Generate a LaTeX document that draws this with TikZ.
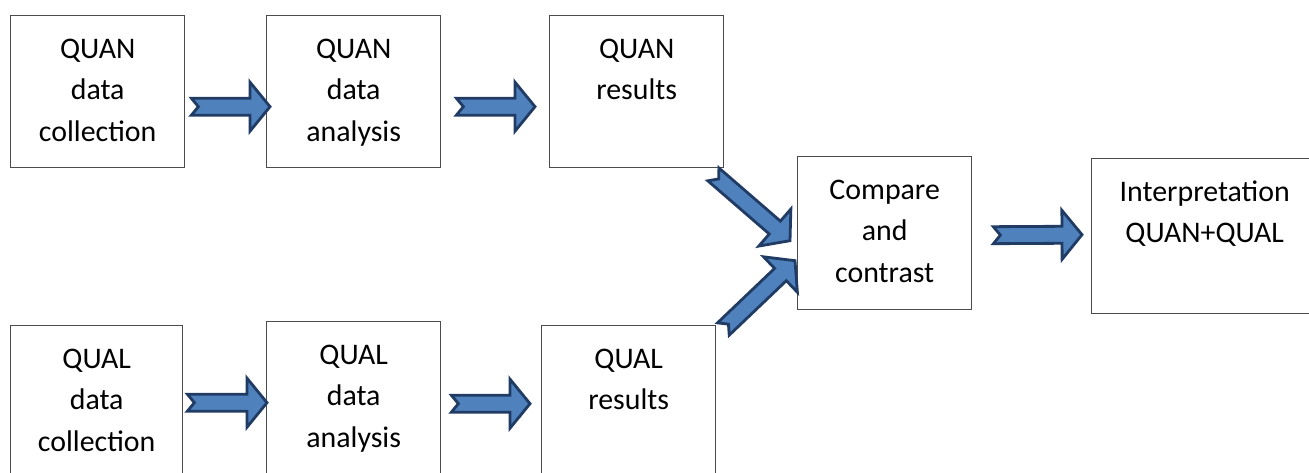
\documentclass[tikz,border=0pt]{standalone}
\usepackage{fontspec}
\setmainfont{Carlito}
\usetikzlibrary{calc, positioning}
\definecolor{arrowfill}{RGB}{79,129,189}
\definecolor{arrowline}{RGB}{33,60,100}
\def\aw{0.17cm}   % half shaft
\def\aH{0.49cm}   % half head
\def\ah{0.40cm}   % head length
\def\an{0.14cm}   % tail notch
\NewDocumentCommand{\boxtext}{m m m}{\parbox[c][#2][t]{#1}{\centering\vspace*{7.8pt}\strut#3}}
\NewDocumentCommand{\blockarrow}{m m}{%
  \draw[fatarrow] let \p1=(#1), \p2=(#2),
      \n1={atan2(\y2-\y1,\x2-\x1)}, \n2={veclen(\x2-\x1,\y2-\y1)} in
    ($(\p1)+({\n1+90}:\aw)$) -- ($(\p1)+(\n1:{\n2-\ah})+({\n1+90}:\aw)$)
    -- ($(\p1)+(\n1:{\n2-\ah})+({\n1+90}:\aH)$) -- (\p2)
    -- ($(\p1)+(\n1:{\n2-\ah})+({\n1-90}:\aH)$)
    -- ($(\p1)+(\n1:{\n2-\ah})+({\n1-90}:\aw)$)
    -- ($(\p1)+({\n1-90}:\aw)$) -- ($(\p1)+(\n1:\an)$) -- cycle;}

\begin{document}
\begin{tikzpicture}[x=0.02cm, y=-0.02cm,
    box/.style = {draw=black!70, line width=0.8pt, inner sep=0pt,
                  anchor=north west, font=\fontsize{17}{23.6}\selectfont},
    fatarrow/.style = {draw=arrowline, fill=arrowfill, line width=1.6pt,
                       line join=miter}]
    \useasboundingbox (0,0) rectangle (1309,473);
    \clip (0,0) rectangle (1309,473);

    % quantitative strand
    \node[box] (qn1) at (10,15) {\boxtext{3.48cm}{3.04cm}{QUAN\\data\\collection}};
    \node[box] (qn2) at (266,15) {\boxtext{3.48cm}{3.04cm}{QUAN\\data\\analysis}};
    \node[box] (qn3) at (549,15) {\boxtext{3.48cm}{3.04cm}{QUAN\\results}};

    % qualitative strand
    \node[box] (ql1) at (10,325) {\boxtext{3.44cm}{3.04cm}{QUAL\\data\\collection}};
    \node[box] (ql2) at (266,321) {\boxtext{3.48cm}{3.04cm}{QUAL\\data\\analysis}};
    \node[box] (ql3) at (541,325) {\boxtext{3.48cm}{3.04cm}{QUAL\\results}};

    \node[box] (cmp) at (797,156) {\boxtext{3.48cm}{3.06cm}{Compare\\and\\contrast}};
    \node[box] (intp) at (1091,158) {\boxtext{4.52cm}{3.10cm}{Interpretation\\QUAN+QUAL}\hspace{1cm}};

    \blockarrow{[shift={(6,15)}]qn1.east}{[shift={(4,15)}]qn2.west}
    \blockarrow{[shift={(15,15)}]qn2.east}{[shift={(-14,15)}]qn3.west}
    \blockarrow{[shift={(4,1)}]ql1.east}{[shift={(1,5)}]ql2.west}
    \blockarrow{[shift={(10,6)}]ql2.east}{[shift={(-11,2)}]ql3.west}
    \blockarrow{[shift={(-11,6)}]qn3.south east}{[shift={(-7,7.5)}]cmp.west}
    \blockarrow{[shift={(7,4)}]ql3.north east}{[shift={(-2,27.5)}]cmp.west}
    \blockarrow{[shift={(21,2)}]cmp.east}{[shift={(-9,-1.5)}]intp.west}
\end{tikzpicture}
\end{document}
